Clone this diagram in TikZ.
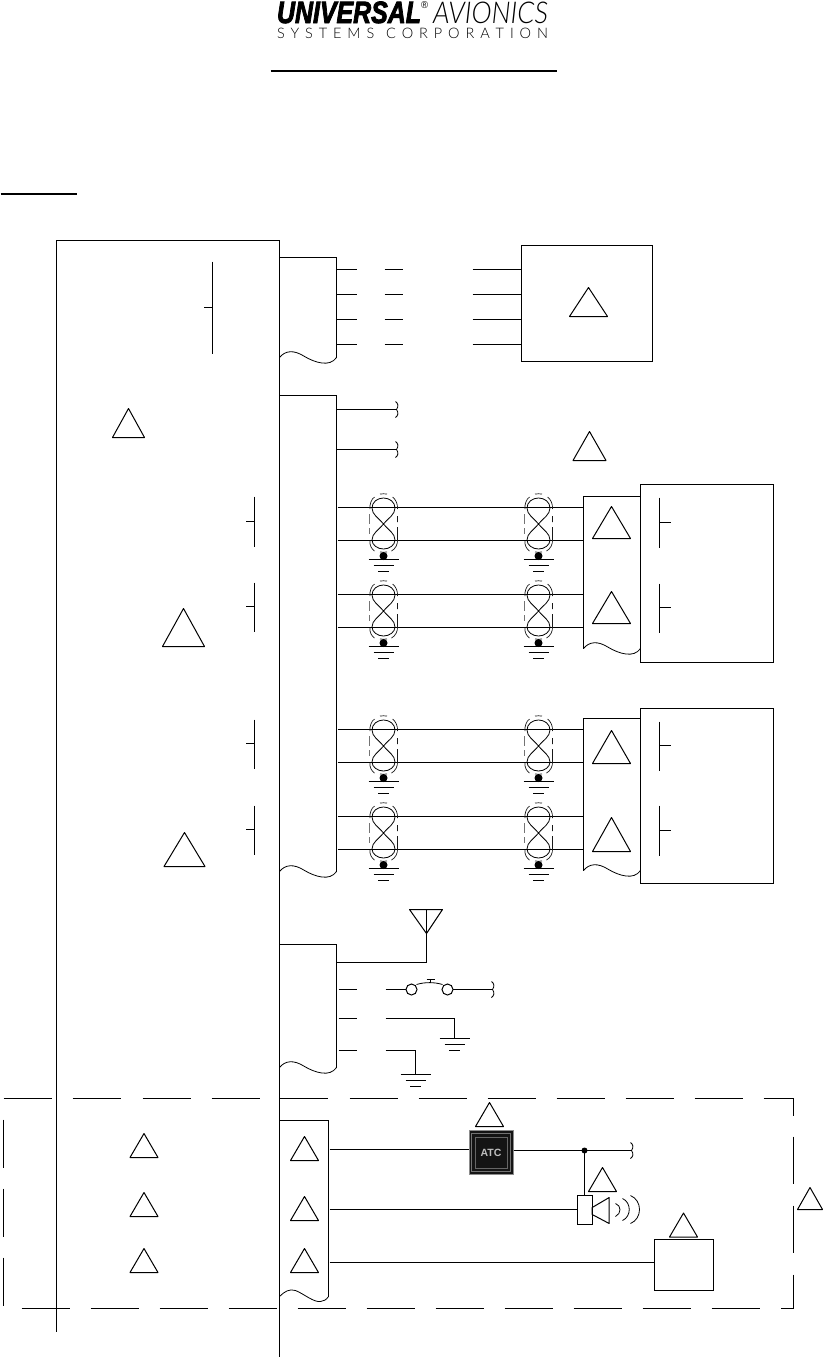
\documentclass[tikz,border=0pt]{standalone}
\usepackage{fontspec}
\setmainfont{Liberation Sans}
\newfontfamily\logoheavy[FakeBold=3]{Liberation Sans Bold Italic}
\newfontfamily\logolight{Lato Light Italic}
\newfontfamily\logosub{Lato Light}
\usetikzlibrary{calc}
\tikzset{
  ln/.style={line width=1pt,black,line join=miter},
  thin ln/.style={line width=0.8pt,black},
  shield/.style={line width=0.7pt,black!90},
  shieldb/.style={line width=0.8pt,black!55},
  boxn/.style={draw,line width=1pt,fill=white,inner sep=0pt,outer sep=0pt,anchor=north west},
}
% triangle: centre x, top y, base y, half width
\newcommand{\trg}[4]{\draw[ln,line join=round] (#1,#2) -- ({#1+#4},#3) -- ({#1-#4},#3) -- cycle;}
% wire with named ends: name, x1, y, x2
\newcommand{\wire}[4]{\coordinate (#1a) at (#2,#3);\coordinate (#1b) at (#4,#3);\draw[ln] (#1a) -- (#1b);}
% squiggle
\newcommand{\squig}[2]{\draw[thin ln] (#1,{#2-8}) .. controls ({#1+3},{#2-6}) and ({#1+3},{#2-3}) .. ({#1+1},#2) .. controls ({#1+3},{#2+3}) and ({#1+3},{#2+6}) .. (#1,{#2+8});}
% ground: centre x, y of top line
\newcommand{\gnd}[2]{\draw[ln] ({#1-15},{#2}) -- ({#1+15},{#2}) ({#1-10},{#2+6}) -- ({#1+10},{#2+6}) ({#1-5.5},{#2+12}) -- ({#1+5.5},{#2+12});}
% wavy bottom: x1, x2, y0
\newcommand{\wavy}[3]{\draw[thin ln] (#1,#3) .. controls ({#1+0.1*(#2-#1)},{#3-7}) and ({#1+0.25*(#2-#1)},{#3-8}) .. ({#1+0.44*(#2-#1)},{#3-1}) .. controls ({#1+0.62*(#2-#1)},{#3+5}) and ({#1+0.88*(#2-#1)},{#3+10}) .. (#2,#3);}
% twist with shield and ground: cx, cy
\newcommand{\twist}[2]{\begin{scope}[shift={(#1,#2)}]
 \draw[thin ln] (0,0) .. controls (-5,-6) and (-11.5,-9.5) .. (-11.5,-16) .. controls (-11.5,-22) and (-6,-26) .. (0,-26) .. controls (6,-26) and (11.5,-22) .. (11.5,-16) .. controls (11.5,-9.5) and (5,-6) .. (0,0)
  .. controls (-5,6) and (-11.5,9.5) .. (-11.5,16) .. controls (-11.5,21) and (-6,25) .. (0,25) .. controls (6,25) and (11.5,21) .. (11.5,16) .. controls (11.5,9.5) and (5,6) .. (0,0);
 \draw[shield] (-3.5,-30) .. controls (-1,-31) and (1,-29.5) .. (3.5,-30)
  (-9,-27) .. controls (-12,-25) and (-14,-20) .. (-13.5,-15)
  (9,-27) .. controls (12,-25) and (14.5,-20) .. (14,-15)
  (14,-8) -- (14,-2) (14,3) -- (14,15)
  (-13.5,17) .. controls (-14,21) and (-12,25) .. (-9,27)
  (14,15) .. controls (14.5,20) and (12,25) .. (8,27)
  (-3.5,28) .. controls (-1,29) and (1,27.5) .. (3.5,28);
 \draw[shieldb] (-14.5,-10) -- (-14.5,0) (-14.5,4) -- (-14.5,10);
 \fill (0,32) circle (4);
\end{scope}\gnd{#1}{#2+35.5}}
% pair of wires with twists: wire1 y, wire2 y
\newcommand{\pairwires}[3]{\wire{#1u}{337}{#2}{583}\wire{#1l}{337}{#3}{583}
 \pgfmathsetmacro\cyval{(#2+#3)/2}\twist{383}{\cyval}\twist{538}{\cyval}}
% bar with tick: x, y1, y2, tick y, tick x
\newcommand{\bartick}[5]{\draw[ln] (#1,#2) -- (#1,#3) (#1,#4) -- (#5,#4);}
\begin{document}
\begin{tikzpicture}[x=1pt,y=-1pt]
\useasboundingbox (0,0) rectangle (823,1357);
\fill[white] (0,0) rectangle (823,1357);

% logo
\node[inner sep=0pt,outer sep=0pt,anchor=north west] (logoa) at (277,1.5) {\resizebox{144pt}{21.5pt}{\logoheavy UNIVERSAL}};
\node[inner sep=0pt,outer sep=0pt,anchor=north west] (logor) at (421,2) {\resizebox{7pt}{7pt}{®}};
\node[inner sep=0pt,outer sep=0pt,anchor=north west] (logob) at (433,1.5) {\resizebox{115pt}{21.5pt}{\logolight AVIONICS}};
\node[inner sep=0pt,outer sep=0pt,anchor=base west] (logoc) at (277,38) {\makebox[271pt][s]{\logosub\fontsize{14.5}{15}\selectfont S\hfill Y\hfill S\hfill T\hfill E\hfill M\hfill S\hfill\hfill C\hfill O\hfill R\hfill P\hfill O\hfill R\hfill A\hfill T\hfill I\hfill O\hfill N}};

\begin{scope}[shift={(0.5,0.5)}]
\coordinate (ula) at (270,70);\coordinate (ulb) at (556,70);
\draw[line width=2pt] (ula) -- (ulb);
\coordinate (ulc) at (0,193);\coordinate (uld) at (76,193);
\draw[line width=2pt] (ulc) -- (uld);

% main unit
\coordinate (m1) at (56,1331);\coordinate (m2) at (56,240);\coordinate (m3) at (279,240);\coordinate (m4) at (279,1356);
\draw[ln] (m1) -- (m2) -- (m3) -- (m4);
\bartick{212}{261}{353}{307}{203}
\bartick{254}{496}{546}{521}{245}
\bartick{254}{582}{631}{606}{245}
\bartick{254}{719}{768}{743}{245}
\bartick{254}{805}{854}{829}{245}
\trg{128}{408}{437}{16}
\trg{183}{608}{646}{21}
\trg{184}{832}{866}{20.5}

% connector 1
\draw[ln] (279,357) -- (279,257) -- (336,257) -- (336,357);
\wavy{279}{336}{357}
\foreach \y [count=\i] in {269,294,319,344}{
 \wire{ca\i}{336}{\y}{356}
 \wire{cb\i}{384}{\y}{402}
 \wire{cc\i}{472}{\y}{521}
}
\node[boxn,minimum width=131pt,minimum height=116pt] (b1) at (520.5,244.5) {};
\trg{588}{287}{316}{19}

% connector 2
\draw[ln] (279,871) -- (279,395) -- (336,395) -- (336,871);
\wavy{279}{336}{871}
\wire{d1}{336}{409}{396}\squig{395}{409}
\wire{d2}{336}{449}{396}\squig{395}{449}
\trg{589}{431}{460}{16.5}
\pairwires{p1}{507}{540}
\pairwires{p2}{594}{627}
\pairwires{p3}{729}{762}
\pairwires{p4}{816}{849}

% right connectors and boxes
\node[boxn,minimum width=133pt,minimum height=178pt] (b2) at (639.5,483.5) {};
\draw[ln] (640,648) -- (640,496) -- (583,496) -- (583,648);
\wavy{583}{640}{648}
\trg{611}{506}{538}{19}
\trg{611}{591}{623}{19}
\bartick{659}{497}{547}{522}{670}
\bartick{659}{583}{632}{607}{670}
\node[boxn,minimum width=133pt,minimum height=175pt] (b3) at (639.5,707.5) {};
\draw[ln] (640,870) -- (640,718) -- (583,718) -- (583,870);
\wavy{583}{640}{870}
\trg{611}{730}{763}{19}
\trg{611}{817}{851}{19}
\bartick{659}{721}{770}{745}{670}
\bartick{659}{805}{855}{830}{670}

% connector 3
\draw[ln] (279,1067) -- (279,944) -- (336,944) -- (336,1067);
\wavy{279}{336}{1067}
\coordinate (an1) at (336,962);\coordinate (an2) at (426,962);\coordinate (an3) at (426,909);
\draw[ln] (an1) -- (an2) -- (an3);
\draw[ln,line join=round] (409,909) -- (442,909) -- (426,933) -- cycle;
\wire{e1}{338}{989}{356}
\node[circle,draw,line width=1pt,minimum size=11pt,inner sep=0pt,outer sep=0pt] (sw1) at (411,989) {};
\node[circle,draw,line width=1pt,minimum size=11pt,inner sep=0pt,outer sep=0pt] (sw2) at (447,989) {};
\coordinate (e2a) at (385,989);
\draw[ln] (e2a) -- (sw1.west);
\coordinate (e3b) at (492,989);
\draw[ln] (sw2.east) -- (e3b);
\squig{491}{989}
\draw[thin ln] (416,984) .. controls (424,981.5) and (434,981.5) .. (442,984);
\draw[ln] (430,982) -- (430,979) (426,979) -- (434,979);
\wire{f1}{338}{1018}{356}
\coordinate (f2) at (385,1018);\coordinate (f3) at (454,1018);\coordinate (f4) at (454,1038);
\draw[ln] (f2) -- (f3) -- (f4);
\gnd{454}{1038}
\wire{g1}{338}{1050}{356}
\coordinate (g2) at (385,1050);\coordinate (g3) at (415,1050);\coordinate (g4) at (415,1074);
\draw[ln] (g2) -- (g3) -- (g4);
\gnd{415}{1074}

% dashed enclosure
\foreach \a in {3,72,142,211,279,349,418,487,556,625,694}{\draw[ln] (\a,1098) -- ({\a+48},1098);}
\coordinate (da) at (763,1098);\coordinate (db) at (793,1098);\coordinate (dc) at (793,1115);
\draw[ln] (da) -- (db) -- (dc);
\foreach \a in {1136,1205}{\draw[ln] (793,\a) -- (793,{\a+47});}
\coordinate (dd) at (793,1274);\coordinate (de) at (793,1308);\coordinate (df) at (780,1308);
\draw[ln] (dd) -- (de) -- (df);
\foreach \a in {21,90,159,228,297,366,435,504,573,642,711}{\draw[ln] (\a,1308) -- ({\a+48},1308);}
\foreach \a in {1119,1188,1257}{\draw[ln] (3,\a) -- (3,{\a+48});}

% bottom connector
\draw[ln] (279,1120) -- (328,1120) -- (328,1296);
\draw[thin ln] (279,1296) .. controls (284,1291) and (289,1288) .. (295,1290) .. controls (303,1293) and (313,1302) .. (320,1301) .. controls (323,1301) and (326,1299) .. (328,1296);
\trg{304}{1136}{1160}{14}
\trg{304}{1196}{1220}{14}
\trg{304}{1248}{1272}{14}
\trg{143.5}{1133}{1157}{14}
\trg{143.5}{1192}{1216}{14}
\trg{143.5}{1248}{1272}{14}

% ATC switch
\node[draw=black!45,line width=1pt,fill=black!92,minimum size=44pt,inner sep=0pt,outer sep=0pt] (atc) at (490.5,1152) {};
\draw[black!55,line width=0.8pt] (471,1133) rectangle (510,1171);
\draw[black!60,line width=0.8pt] (474.5,1136.5) rectangle (506.5,1167.5);
\node[inner sep=0pt,text=black!25,font=\bfseries\fontsize{10.5}{11}\selectfont] (atct) at (490.5,1152) {ATC};
\coordinate (h1) at (329,1149);\coordinate (h2) at (468,1149);
\draw[ln] (h1) -- (h2);
\coordinate (h3) at (513,1150);\coordinate (h4) at (630,1150);
\draw[ln] (h3) -- (h4);
\squig{630}{1150}
\coordinate (jn) at (584,1150);
\fill (jn) circle (3);
\node[boxn,minimum width=15pt,minimum height=29pt] (spk) at (576.5,1195) {};
\draw[ln] (jn) -- (spk.north -| jn);
\trg{489}{1102}{1126}{14}
\trg{602}{1167}{1191}{14}
\draw[ln,line join=round] (591.7,1207) -- (608.7,1197) -- (608.7,1223) -- (591.7,1214) -- cycle;
\coordinate (k1) at (329,1209);
\draw[ln] (k1) -- (spk.west |- k1);
\draw[thin ln] (615,1203) .. controls (621,1205) and (621,1213) .. (615,1216);
\draw[thin ln] (622,1198) .. controls (631,1202) and (631,1216) .. (622,1220);
\draw[thin ln] (630,1195) .. controls (642,1200) and (642,1218) .. (630,1223);
\node[boxn,minimum width=58.5pt,minimum height=51pt] (b4) at (654,1239) {};
\coordinate (l1) at (329,1262);
\draw[ln] (l1) -- (b4.west |- l1);
\trg{683}{1212.5}{1236.5}{14}
\trg{809.5}{1187}{1209}{12.5}
\end{scope}
\end{tikzpicture}
\end{document}
